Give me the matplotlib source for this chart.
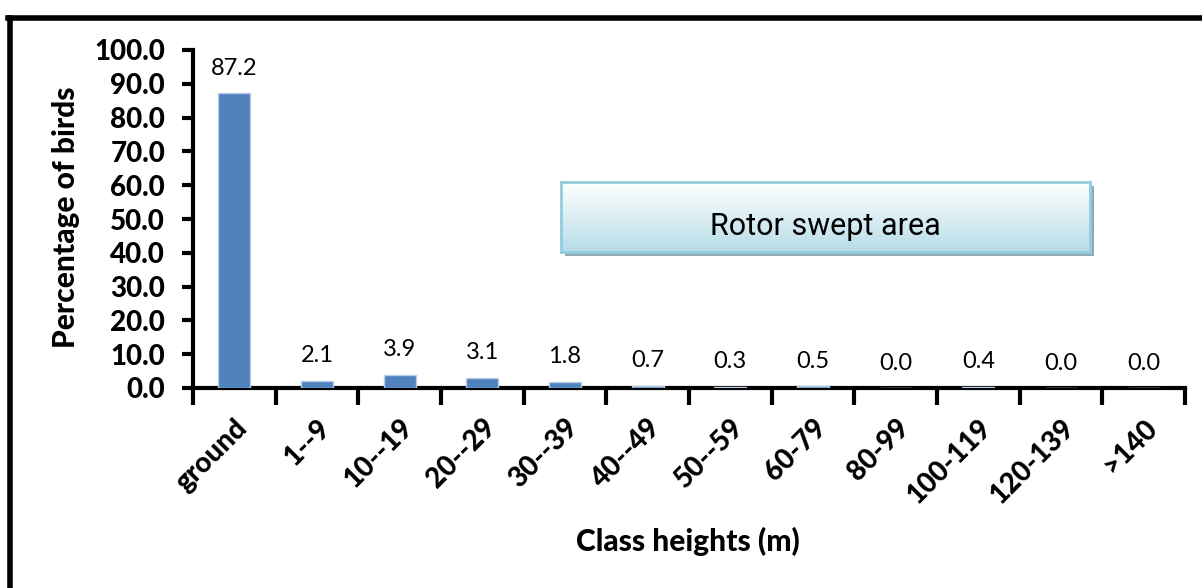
import matplotlib
matplotlib.use("Agg")
import matplotlib.pyplot as plt
import numpy as np
from matplotlib.lines import Line2D
from matplotlib.patches import Rectangle

categories = ["ground", "1--9", "10--19", "20--29", "30--39", "40--49", "50--59",
              "60-79", "80-99", "100-119", "120-139", ">140"]
values = [87.2, 2.1, 3.9, 3.1, 1.8, 0.7, 0.3, 0.5, 0.0, 0.4, 0.0, 0.0]
y_ticks = [0, 10, 20, 30, 40, 50, 60, 70, 80, 90, 100]

W, H = 1202, 588
fig = plt.figure(figsize=(W / 100, H / 100), dpi=100)
FONT = ["Lato", "DejaVu Sans"]
BOLD = "black"

def fx(px):
    return px / W

def fy(py):
    return 1 - py / H

ax = fig.add_axes([fx(193), fy(388), fx(1185) - fx(193), fy(50) - fy(388)])
x = np.arange(len(categories))
ax.bar(x, values, width=0.39, color="#4F81BD", edgecolor="#B9CDE5", linewidth=1, zorder=3)
ax.set_xlim(-0.5, len(categories) - 0.5)
ax.set_ylim(0, 100)
ax.set_yticks(y_ticks)
ax.set_yticklabels([f"{v:.1f}" for v in y_ticks], fontsize=20, fontweight=BOLD, family=FONT)
ax.set_xticks(np.arange(-0.5, len(categories), 1.0))
ax.set_xticklabels([])
ax.set_xticks(x, minor=True)
ax.set_xticklabels(categories, minor=True, rotation=45, ha="right", va="top",
                   rotation_mode="anchor", fontsize=20, fontweight=BOLD, family=FONT)
ax.tick_params(axis="x", which="minor", length=0, pad=19)
ax.tick_params(axis="x", which="major", length=12, width=3, direction="out")
ax.tick_params(axis="y", length=8, width=3, direction="out", pad=12)
for s in ["top", "right"]:
    ax.spines[s].set_visible(False)
for s in ["left", "bottom"]:
    ax.spines[s].set_linewidth(3)

for xi, v in zip(x, values):
    ax.annotate(f"{v:.1f}", (xi, v), xytext=(0, 18), textcoords="offset points",
                ha="center", va="center", fontsize=17, family=FONT)

fig.text(fx(66), fy(217), "Percentage of birds", rotation=90, ha="center", va="center",
         fontsize=21.5, fontweight=BOLD, family=FONT)
fig.text(fx(688), fy(541), "Class heights (m)", ha="center", va="center",
         fontsize=21.5, fontweight=BOLD, family=FONT)

# Rotor swept area box with shadow and gradient
bx0, by0, bx1, by1 = 561, 182, 1090, 252
shadow = Rectangle((fx(bx0 + 4), fy(by1 + 4)), fx(bx1) - fx(bx0), fy(by0) - fy(by1),
                   transform=fig.transFigure, facecolor="#93A9B3", edgecolor="none", zorder=5)
fig.patches.append(shadow)
bax = fig.add_axes([fx(bx0), fy(by1), fx(bx1) - fx(bx0), fy(by0) - fy(by1)], zorder=6)
grad = np.linspace(0, 1, 100).reshape(-1, 1)
top = np.array([1.0, 1.0, 1.0])
bot = np.array([0xB7, 0xDD, 0xE8]) / 255
img = top[None, None, :] * (1 - grad[:, :, None]) + bot[None, None, :] * grad[:, :, None]
bax.imshow(img, aspect="auto", extent=[0, 1, 0, 1], origin="upper")
bax.set_xlim(0, 1)
bax.set_ylim(0, 1)
bax.set_xticks([])
bax.set_yticks([])
for s in bax.spines.values():
    s.set_color("#93CDDD")
    s.set_linewidth(2)
bax.text(0.5, 0.36, "Rotor swept area", ha="center", va="center", fontsize=22,
         family=["Roboto", "DejaVu Sans"], color="black")

# outer frame (left and top)
fig.add_artist(Line2D([fx(10), fx(10)], [fy(18), 0], transform=fig.transFigure,
                      color="black", linewidth=4))
fig.add_artist(Line2D([fx(8), 1], [fy(18), fy(18)], transform=fig.transFigure,
                      color="black", linewidth=4))

fig.savefig("out.png", dpi=100)
